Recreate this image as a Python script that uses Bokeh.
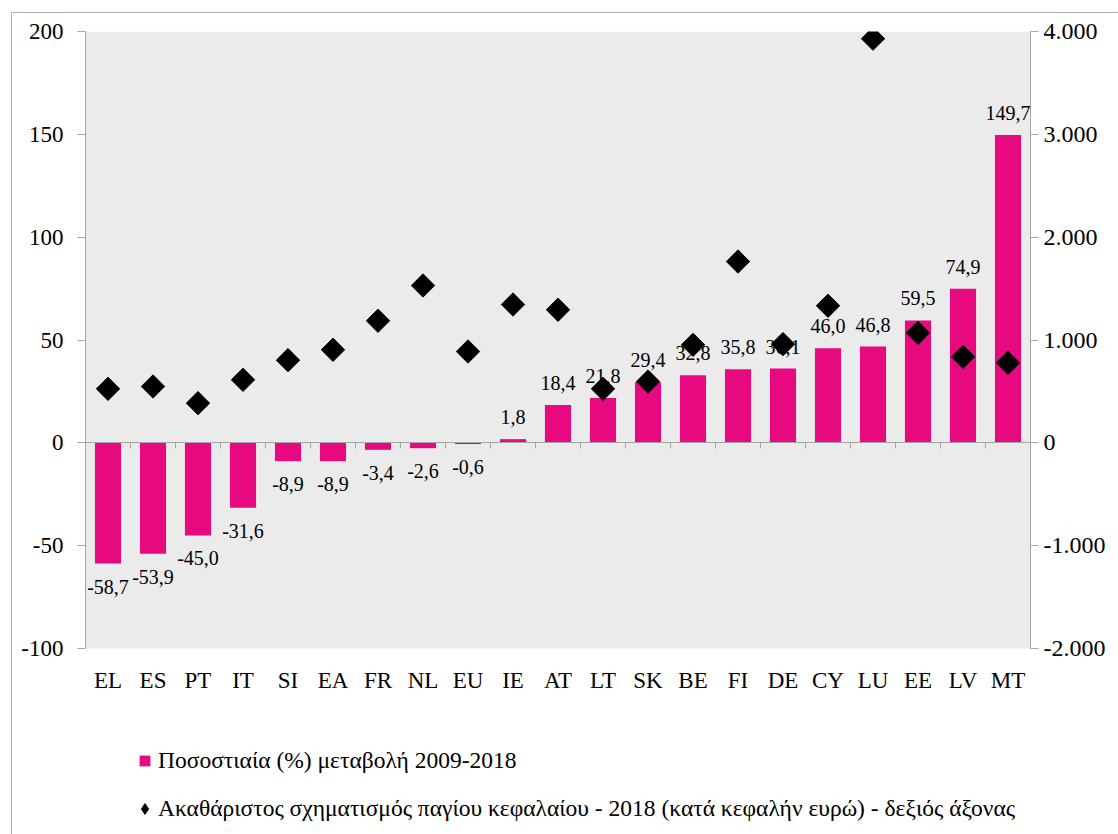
from bokeh.plotting import figure
from bokeh.models import (Range1d, LinearAxis, FixedTicker, ColumnDataSource, LabelSet,
                          Legend, LegendItem, BoxAnnotation)
from bokeh.embed import file_html
from bokeh.resources import INLINE
from bokeh.core.properties import value
import numpy as np

countries = ["EL", "ES", "PT", "IT", "SI", "EA", "FR", "NL", "EU", "IE", "AT",
             "LT", "SK", "BE", "FI", "DE", "CY", "LU", "EE", "LV", "MT"]
pct_change = [-58.7, -53.9, -45.0, -31.6, -8.9, -8.9, -3.4, -2.6, -0.6, 1.8, 18.4,
              21.8, 29.4, 32.8, 35.8, 36.1, 46.0, 46.8, 59.5, 74.9, 149.7]
gfcf_per_capita = [525, 548, 386, 613, 804, 905, 1187, 1530, 888, 1345, 1294,
                   525, 596, 953, 1763, 960, 1333, 3930, 1070, 837, 778]
left_ticks = [-100, -50, 0, 50, 100, 150, 200]
left_tick_labels = ["-100", "-50", "0", "50", "100", "150", "200"]
right_ticks = [-2000, -1000, 0, 1000, 2000, 3000, 4000]
right_tick_labels = ["-2.000", "-1.000", "0", "1.000", "2.000", "3.000", "4.000"]
bar_label = "Ποσοστιαία (%) μεταβολή 2009-2018"
marker_label = "Ακαθάριστος σχηματισμός παγίου κεφαλαίου - 2018 (κατά κεφαλήν ευρώ) - δεξιός άξονας"

SERIF = "Liberation Serif"
BAR_COLOR = "#E6097F"
AXIS_COLOR = "#a6a6a6"
PLOT_BG = "#ebebeb"

Y_MIN, Y_MAX = -100, 200
R_MIN, R_MAX = -2000, 4000

W, H = 1118, 834
FRAME_TOP, PLOT_BOTTOM, FRAME_BOTTOM = 31, 648, 824
# extend the frame below the plotting area so the legend can live inside it
ext = (FRAME_BOTTOM - PLOT_BOTTOM) / (PLOT_BOTTOM - FRAME_TOP)
y_lo = Y_MIN - ext * (Y_MAX - Y_MIN)
r_lo = R_MIN - ext * (R_MAX - R_MIN)

n = len(countries)
xc = np.arange(n) + 0.5
labels = [f"{v:.1f}".replace(".", ",") for v in pct_change]
pos = [v >= 0 for v in pct_change]

src_pos = ColumnDataSource(dict(x=[x for x, k in zip(xc, pos) if k],
                                y=[v for v, k in zip(pct_change, pos) if k],
                                lab=[l for l, k in zip(labels, pos) if k]))
src_neg = ColumnDataSource(dict(x=[x for x, k in zip(xc, pos) if not k],
                                y=[v for v, k in zip(pct_change, pos) if not k],
                                lab=[l for l, k in zip(labels, pos) if not k]))
src = ColumnDataSource(dict(x=xc, pct=pct_change, gfcf=gfcf_per_capita,
                            cat=countries, base=[Y_MIN] * n))

p = figure(width=W, height=H, x_range=Range1d(0, n), y_range=Range1d(y_lo, Y_MAX),
           output_backend="svg", toolbar_location=None,
           min_border_left=85, min_border_right=W - 1030, min_border_top=FRAME_TOP,
           min_border_bottom=H - FRAME_BOTTOM)
p.extra_y_ranges = {"right": Range1d(r_lo, R_MAX)}
p.background_fill_color = "white"
p.background_fill_alpha = 0
p.border_fill_color = "white"
p.border_fill_alpha = 0
p.outline_line_color = None
p.grid.visible = False
p.styles = {"background": "linear-gradient(#b0b0b0, #b0b0b0) 11px 12px / 1px 100% no-repeat, "
                          "linear-gradient(#b0b0b0, #b0b0b0) 11px 12px / 100% 1px no-repeat, white"}

# gray plotting area
p.add_layout(BoxAnnotation(left=0, right=n, bottom=Y_MIN, top=Y_MAX,
                           fill_color=PLOT_BG, fill_alpha=1, line_color=None,
                           level="underlay"))

# left axis
ya = p.yaxis[0]
ya.ticker = FixedTicker(ticks=left_ticks)
ya.bounds = (Y_MIN, Y_MAX)
ya.major_label_overrides = {t: l for t, l in zip(left_ticks, left_tick_labels)}
ya.axis_line_color = AXIS_COLOR
ya.major_tick_line_color = AXIS_COLOR
ya.major_tick_out = 8
ya.major_tick_in = 0
ya.minor_tick_line_color = None
ya.major_label_text_font = SERIF
ya.major_label_text_font_size = "23px"
ya.major_label_text_color = "black"
ya.major_label_standoff = 14

# right axis
ra = LinearAxis(y_range_name="right", ticker=FixedTicker(ticks=right_ticks),
                bounds=(R_MIN, R_MAX),
                major_label_overrides={t: l for t, l in zip(right_ticks, right_tick_labels)})
ra.axis_line_color = AXIS_COLOR
ra.major_tick_line_color = AXIS_COLOR
ra.major_tick_out = 8
ra.major_tick_in = 0
ra.minor_tick_line_color = None
ra.major_label_text_font = SERIF
ra.major_label_text_font_size = "24px"
ra.major_label_text_color = "black"
ra.major_label_standoff = 5
p.add_layout(ra, "right")

bars = p.vbar(x="x", top="pct", bottom=0, width=0.58, source=src,
              fill_color=BAR_COLOR, line_color=None)

# zero line with ticks between categories (the default x axis)
za = p.xaxis[0]
za.fixed_location = 0
za.ticker = FixedTicker(ticks=list(range(n + 1)))
za.major_label_overrides = {i: "" for i in range(n + 1)}
za.major_label_text_font_size = "1px"
za.axis_line_color = AXIS_COLOR
za.major_tick_line_color = AXIS_COLOR
za.major_tick_out = 6
za.major_tick_in = 0
za.minor_tick_line_color = None
za.major_label_standoff = 0

pts = p.scatter(x="x", y="gfcf", y_range_name="right", source=src, marker="square",
                size=16.5, angle=np.pi / 4, fill_color="black", line_color="black")

# legend-only symbol renderers (zero-size in the plot, drawn at legend size)
leg_bar = p.scatter(x="x", y="pct", source=src, marker="square", size=0,
                    fill_color=BAR_COLOR, line_color=None)
leg_pt = p.scatter(x="x", y="gfcf", y_range_name="right", source=src, marker="diamond",
                   size=0, fill_color="black", line_color="black")

# category labels under the plotting area
p.text(x="x", y="base", text="cat", source=src, y_offset=32,
       text_align="center", text_baseline="middle",
       text_font=value(SERIF), text_font_size="23px", text_color="black")

for s, off, base in ((src_pos, 15, "bottom"), (src_neg, -16, "top")):
    p.add_layout(LabelSet(x="x", y="y", text="lab", y_offset=off, source=s,
                          text_align="center", text_baseline=base,
                          text_font=value(SERIF), text_font_size="20px",
                          text_color="black"))

legend = Legend(items=[LegendItem(label=bar_label, renderers=[leg_bar]),
                       LegendItem(label=marker_label, renderers=[leg_pt])],
                orientation="vertical", location=(46, 2))
legend.border_line_color = None
legend.background_fill_alpha = 0
legend.label_text_font = SERIF
legend.label_text_font_size = "23.5px"
legend.label_text_color = "black"
legend.glyph_width = 27
legend.glyph_height = 27
legend.spacing = 21
legend.label_standoff = 0
legend.margin = 0
legend.padding = 0
p.add_layout(legend, "center")

open("out.html", "w").write(file_html(p, INLINE))
